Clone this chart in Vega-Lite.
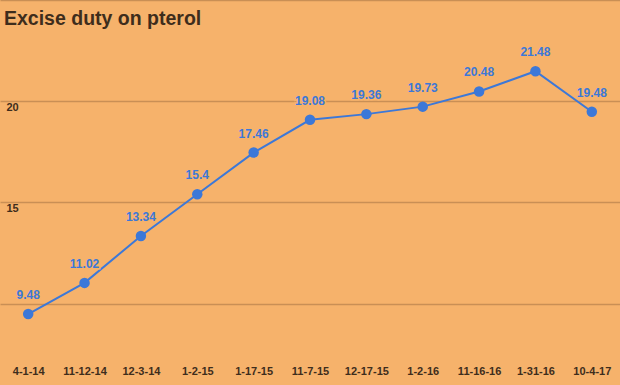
{
  "$schema": "https://vega.github.io/schema/vega-lite/v6.json",
  "width": 620,
  "height": 344,
  "padding": {"top": 0, "left": 0, "right": 0, "bottom": 41},
  "autosize": {"type": "none"},
  "background": "#F6B26B",
  "title": {
    "text": "Excise duty on pterol",
    "anchor": "start",
    "orient": "top",
    "offset": -44,
    "baseline": "alphabetic",
    "dx": 4,
    "font": "Liberation Sans",
    "fontSize": 19.5,
    "fontWeight": "bold",
    "color": "#3E2D1C"
  },
  "config": {
    "view": {"stroke": null},
    "font": "Liberation Sans"
  },
  "data": {
    "values": [
      {"date": "4-1-14", "duty": 9.48},
      {"date": "11-12-14", "duty": 11.02},
      {"date": "12-3-14", "duty": 13.34},
      {"date": "1-2-15", "duty": 15.4},
      {"date": "1-17-15", "duty": 17.46},
      {"date": "11-7-15", "duty": 19.08},
      {"date": "12-17-15", "duty": 19.36},
      {"date": "1-2-16", "duty": 19.73},
      {"date": "11-16-16", "duty": 20.48},
      {"date": "1-31-16", "duty": 21.48},
      {"date": "10-4-17", "duty": 19.48}
    ]
  },
  "encoding": {
    "x": {
      "field": "date",
      "type": "ordinal",
      "sort": null,
      "scale": {"type": "point", "padding": 0.5},
      "axis": {
        "title": null,
        "labelAngle": 0,
        "domain": false,
        "ticks": false,
        "labelPadding": 21,
        "labelFont": "Liberation Sans",
        "labelFontSize": 11,
        "labelFontWeight": "bold",
        "labelColor": "#3E2D1C"
      }
    },
    "y": {
      "field": "duty",
      "type": "quantitative",
      "scale": {"domain": [8, 25], "nice": false, "zero": false},
      "axis": {
        "title": null,
        "values": [10, 15, 20, 25],
        "labelExpr": "datum.value == 15 || datum.value == 20 ? datum.label : ''",
        "domain": false,
        "ticks": false,
        "tickSize": 0,
        "labelPadding": -6,
        "labelAlign": "left",
        "labelBaseline": "top",
        "labelDy": 6,
        "labelFont": "Liberation Sans",
        "labelFontSize": 11,
        "labelFontWeight": "bold",
        "labelColor": "#3E2D1C",
        "grid": true,
        "gridColor": "#C98F55",
        "gridWidth": 1.5,
        "gridOpacity": 1
      }
    }
  },
  "layer": [
    {
      "mark": {"type": "line", "color": "#3C78D8", "strokeWidth": 2}
    },
    {
      "mark": {"type": "point", "filled": true, "color": "#3C78D8", "size": 110, "opacity": 1}
    },
    {
      "mark": {
        "type": "text",
        "dy": -15,
        "baseline": "alphabetic",
        "font": "Liberation Sans",
        "fontSize": 12,
        "fontWeight": "bold",
        "color": "#3C78D8",
        "stroke": "#F6B26B",
        "strokeWidth": 3,
        "strokeOpacity": 1
      },
      "encoding": {"text": {"field": "duty", "type": "quantitative"}}
    },
    {
      "mark": {
        "type": "text",
        "dy": -15,
        "baseline": "alphabetic",
        "font": "Liberation Sans",
        "fontSize": 12,
        "fontWeight": "bold",
        "color": "#3C78D8"
      },
      "encoding": {"text": {"field": "duty", "type": "quantitative"}}
    }
  ]
}
